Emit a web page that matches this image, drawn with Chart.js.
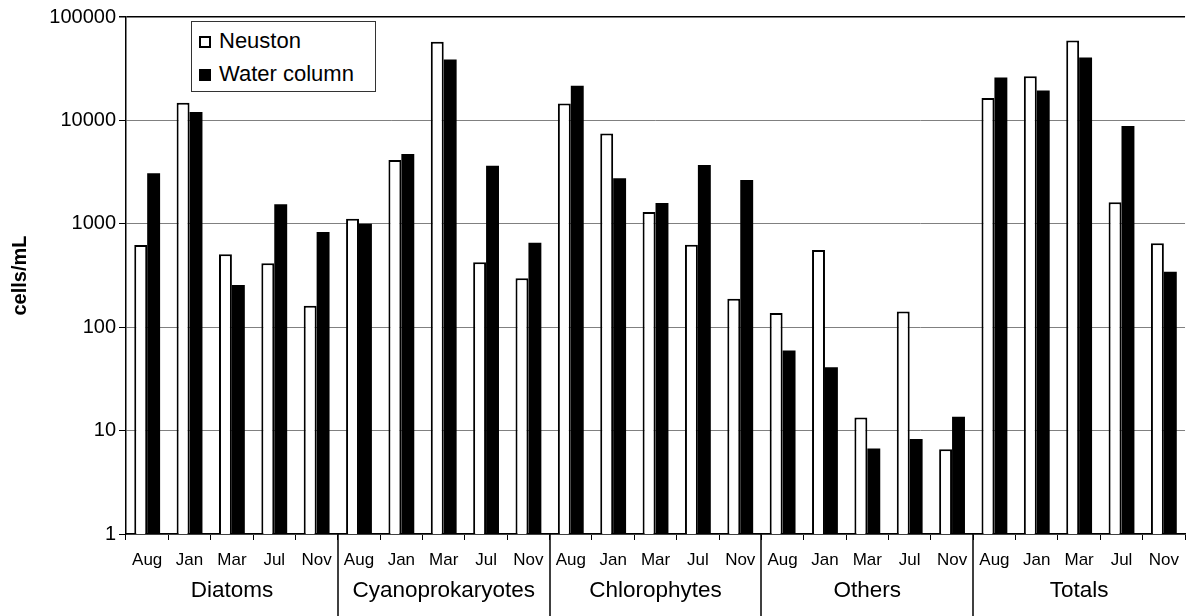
<!DOCTYPE html>
<html>
<head>
<meta charset="utf-8">
<script src="https://cdn.jsdelivr.net/npm/chart.js@4/dist/chart.umd.min.js"></script>
<style>
    html, body { margin: 0; padding: 0; background: #fff; }
    #wrap { position: relative; width: 1189px; height: 616px; }
    #legend {
        position: absolute; left: 191px; top: 21px; width: 183px; height: 69px;
        border: 1px solid #333; background: #fff;
        font-family: "Liberation Sans", Arial, sans-serif; font-size: 22px; color: #000;
    }
    .item { position: absolute; left: 7px; height: 26px; line-height: 26px; white-space: nowrap; }
    .swatch { display: inline-block; width: 12px; height: 12px; border: 2px solid #000; margin-right: 8px; vertical-align: 0px; box-sizing: border-box; }
</style>
</head>
<body>
<div id="wrap">
    <canvas id="chart" width="1189" height="616"></canvas>
    <div id="legend">
        <div class="item" style="top:6px"><span class="swatch" style="background:#fff"></span>Neuston</div>
        <div class="item" style="top:39px"><span class="swatch" style="background:#000"></span>Water column</div>
    </div>
</div>
<script>
// cells/mL per month, five groups of five sampling months
const months = ['Aug', 'Jan', 'Mar', 'Jul', 'Nov'];
const groups = ['Diatoms', 'Cyanoprokaryotes', 'Chlorophytes', 'Others', 'Totals'];
const neuston = [
    624, 14800, 508, 415, 161,
    1120, 4130, 57500, 425, 297,
    14600, 7490, 1300, 628, 188,
    137, 558, 13.4, 142, 6.6,
    16500, 26800, 59300, 1614, 648
];
const waterColumn = [
    3076, 12030, 256, 1543, 833,
    1002, 4720, 38800, 3640, 657,
    21600, 2750, 1590, 3700, 2650,
    59.4, 41.1, 6.7, 8.3, 13.6,
    26000, 19500, 40600, 8810, 344
];
const yTicks = [1, 10, 100, 1000, 10000, 100000];

const fontFamily = '"Liberation Sans", Arial, sans-serif';
const labels = groups.flatMap(() => months);

// group names under the months plus the separator lines between groups
const groupPlugin = {
    id: 'groupLabels',
    afterDraw(chart) {
        const x = chart.scales.x;
        const ctx = chart.ctx;
        const bottom = chart.chartArea.bottom;
        ctx.save();
        ctx.font = '22.5px ' + fontFamily;
        ctx.fillStyle = '#000';
        ctx.textAlign = 'center';
        ctx.textBaseline = 'middle';
        ctx.strokeStyle = '#000';
        ctx.lineWidth = 1.5;
        groups.forEach(function(g, i) {
            const a = x.getPixelForValue(i * 5);
            const b = x.getPixelForValue(i * 5 + 4);
            ctx.fillText(g, (a + b) / 2, bottom + 57);
            if (i > 0) {
                const sx = Math.round((x.getPixelForValue(i * 5 - 1) + a) / 2);
                ctx.beginPath();
                ctx.moveTo(sx, bottom);
                ctx.lineTo(sx, chart.height);
                ctx.stroke();
            }
        });
        ctx.restore();
    }
};

new Chart(document.getElementById('chart').getContext('2d'), {
    type: 'bar',
    data: {
        labels: labels,
        datasets: [
            {
                label: 'Neuston',
                data: neuston,
                backgroundColor: '#fff',
                borderColor: '#000',
                borderWidth: 2
            },
            {
                label: 'Water column',
                data: waterColumn,
                backgroundColor: '#000',
                borderColor: '#000',
                borderWidth: 0
            }
        ]
    },
    options: {
        responsive: false,
        animation: false,
        devicePixelRatio: 1,
        categoryPercentage: 0.61,
        barPercentage: 1.0,
        layout: { padding: { top: 17, right: 1, left: 0, bottom: 0 } },
        plugins: {
            legend: { display: false },
            tooltip: { enabled: false }
        },
        scales: {
            x: {
                grid: {
                    offset: true,
                    drawOnChartArea: false,
                    tickLength: 6,
                    tickColor: '#000'
                },
                border: { color: '#000', width: 1.5 },
                ticks: {
                    color: '#000',
                    font: { family: fontFamily, size: 17 },
                    autoSkip: false,
                    maxRotation: 0,
                    padding: 10
                },
                afterFit(scale) { scale.height = 82; }
            },
            y: {
                type: 'logarithmic',
                min: 1,
                max: 100000,
                afterBuildTicks(scale) {
                    scale.ticks = yTicks.map(v => ({ value: v }));
                },
                grid: {
                    color: ctx => (ctx.tick && ctx.tick.value === 100000 ? '#000' : '#808080'),
                    lineWidth: ctx => (ctx.tick && ctx.tick.value === 100000 ? 1.5 : 1),
                    tickLength: 7,
                    tickColor: '#000'
                },
                border: { color: '#000', width: 1.5 },
                ticks: {
                    color: '#000',
                    font: { family: fontFamily, size: 20 },
                    padding: 3,
                    callback: v => String(v)
                },
                title: {
                    display: true,
                    text: 'cells/mL',
                    color: '#000',
                    font: { family: fontFamily, size: 20, weight: 'bold' },
                    padding: { top: 8, bottom: 0 }
                },
                afterFit(scale) { scale.width = 126; }
            }
        }
    },
    plugins: [groupPlugin]
});
</script>
</body>
</html>
